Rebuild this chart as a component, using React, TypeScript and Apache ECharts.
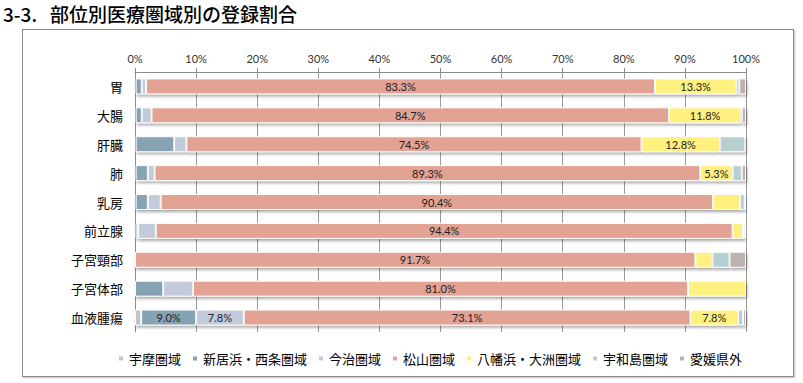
import React, { useEffect, useRef } from "react";
import * as echarts from "echarts";

const titleNumber = "3-3.";
const titleText = "部位別医療圏域別の登録割合";

const categories = ["胃", "大腸", "肝臓", "肺", "乳房", "前立腺", "子宮頸部", "子宮体部", "血液腫瘍"];
const tickValues = [0, 10, 20, 30, 40, 50, 60, 70, 80, 90, 100];

const seriesNames = ["宇摩圏域", "新居浜・西条圏域", "今治圏域", "松山圏域", "八幡浜・大洲圏域", "宇和島圏域", "愛媛県外"];

const uma = [0.1, 0.1, 0.1, 0.1, 0.1, 0.1, 0.0, 0.0, 1.0];
const niihama = [1.0, 1.0, 6.3, 2.0, 2.0, 0.4, 0.0, 4.6, 9.0];
const imabari = [0.7, 1.6, 2.0, 1.1, 2.1, 2.9, 0.0, 4.9, 7.8];
const matsuyama = [83.3, 84.7, 74.5, 89.3, 90.4, 94.4, 91.7, 81.0, 73.1];
const yawatahama = [13.3, 11.8, 12.8, 5.3, 4.4, 1.7, 2.8, 9.5, 7.8];
const uwajima = [0.5, 0.1, 4.2, 1.5, 0.8, 0.3, 2.8, 0.0, 0.8];
const outside = [1.1, 0.7, 0.1, 0.7, 0.2, 0.2, 2.7, 0.0, 0.5];

const seriesValues = [uma, niihama, imabari, matsuyama, yawatahama, uwajima, outside];

// categories whose segment carries a value label, per series
const labelledUma: string[] = [];
const labelledNiihama = ["血液腫瘍"];
const labelledImabari = ["血液腫瘍"];
const labelledMatsuyama = categories;
const labelledYawatahama = ["胃", "大腸", "肝臓", "肺", "血液腫瘍"];
const labelledUwajima: string[] = [];
const labelledOutside: string[] = [];
const labelled = [labelledUma, labelledNiihama, labelledImabari, labelledMatsuyama, labelledYawatahama, labelledUwajima, labelledOutside];

const colors = ["#c4c4c4", "#86a3b3", "#c3cada", "#e3a394", "#fff17f", "#b6cfd3", "#bdb2af"];

const labelFont = "Lato, 'Open Sans', sans-serif";
const cjkFont = "'Noto Sans CJK JP', 'Noto Sans', sans-serif";

export default function App() {
  const ref = useRef<HTMLDivElement>(null);

  useEffect(() => {
    if (!ref.current) return;
    const chart = echarts.init(ref.current, undefined, { renderer: "svg" });

    const series = seriesNames.map((name, si) => ({
      name,
      type: "bar",
      stack: "total",
      barWidth: 16,
      itemStyle: {
        color: colors[si],
        borderColor: "#ffffff",
        borderWidth: 1,
        shadowColor: "rgba(0,0,0,0.35)",
        shadowBlur: 3,
        shadowOffsetX: 1,
        shadowOffsetY: 2,
      },
      label: {
        show: false,
        position: "inside",
        color: "#222",
        fontSize: 11,
        fontFamily: labelFont,
        formatter: (p: any) => `${Number(p.value).toFixed(1)}%`,
      },
      data: seriesValues[si].map((v, ci) => ({
        value: v,
        label: { show: labelled[si].includes(categories[ci]) },
      })),
    }));

    chart.setOption({
      animation: false,
      color: colors,
      graphic: [
        {
          type: "text",
          x: 3,
          y: 13,
          style: { text: titleNumber, fontSize: 19, fontFamily: cjkFont, fontWeight: 500, fill: "#000", textVerticalAlign: "middle" },
        },
        {
          type: "text",
          x: 50,
          y: 13,
          style: { text: titleText, fontSize: 19, fontFamily: cjkFont, fontWeight: 500, fill: "#000", textVerticalAlign: "middle" },
        },
      ],
      grid: { left: 135, right: 57, top: 72, bottom: 51, containLabel: false },
      xAxis: {
        type: "value",
        position: "top",
        min: tickValues[0],
        max: tickValues[tickValues.length - 1],
        interval: tickValues[1] - tickValues[0],
        axisLine: { show: true, lineStyle: { color: "#8c8c8c", width: 1 } },
        axisTick: { show: true, length: 4, lineStyle: { color: "#8c8c8c" } },
        axisLabel: { formatter: "{value}%", fontSize: 11, color: "#333", fontFamily: labelFont, margin: 8 },
        splitLine: { show: true, lineStyle: { color: "#999", width: 1 } },
      },
      yAxis: {
        type: "category",
        inverse: true,
        data: categories,
        axisLine: { show: true, lineStyle: { color: "#8c8c8c", width: 1 } },
        axisTick: { show: false },
        axisLabel: { fontSize: 13, color: "#000", fontFamily: cjkFont, margin: 12 },
      },
      legend: {
        data: seriesNames,
        left: 112,
        top: 347,
        icon: "rect",
        itemWidth: 6,
        itemHeight: 6,
        itemGap: 10,
        textStyle: { fontSize: 13, color: "#000", fontFamily: cjkFont },
      },
      series,
    });

    return () => chart.dispose();
  }, []);

  return (
    <div style={{ position: "fixed", left: 0, top: 0, width: 803, height: 383, background: "#fff" }}>
      <div ref={ref} style={{ position: "absolute", left: 0, top: 0, width: 803, height: 383 }} />
      <div
        style={{
          position: "absolute",
          left: 22,
          top: 29,
          width: 770,
          height: 346,
          border: "1px solid #8a8a8a",
          boxShadow: "1px 1px 2px rgba(0,0,0,0.25)",
          pointerEvents: "none",
        }}
      />
    </div>
  );
}
